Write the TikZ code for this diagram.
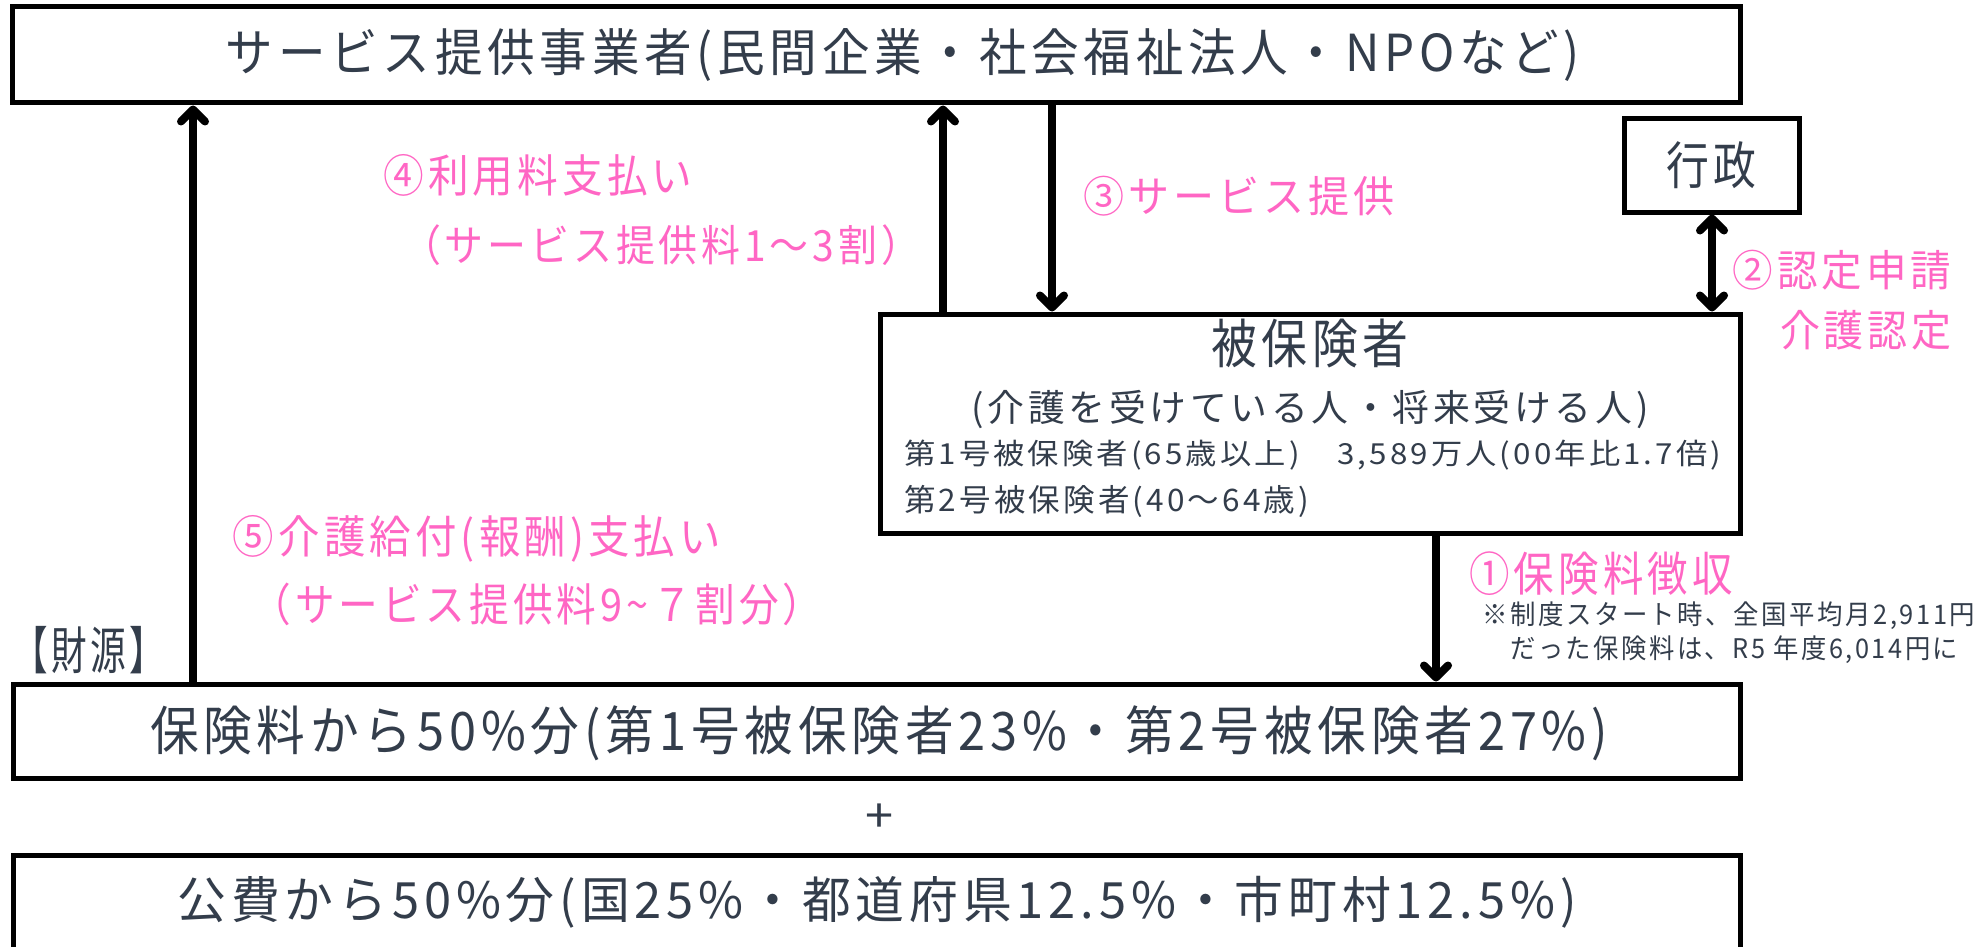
\documentclass[tikz,border=0pt]{standalone}
\usepackage{graphicx}
\usepackage{fontspec}
\usetikzlibrary{arrows.meta}
\newfontfamily\jp[LetterSpace=10]{Noto Sans CJK JP}
\definecolor{dk}{HTML}{333D4B}
\definecolor{pk}{HTML}{FF66C4}
\newcommand\tx[3]{\resizebox{#1pt}{\height}{\fontsize{#2}{#2}\selectfont\jp #3}}
\begin{document}
\begin{tikzpicture}[x=1pt,y=-1pt,
  box/.style={draw=black, line width=5pt, fill=white, inner sep=0pt, text=dk},
  arr/.style={line width=8pt, -{Straight Barb[length=12pt,width=24pt,round]}},
  darr/.style={line width=8pt, {Straight Barb[length=12pt,width=24pt,round]}-{Straight Barb[length=12pt,width=24pt,round]}},
  dtxt/.style={text=dk, inner sep=0pt},
  ptxt/.style={text=pk, inner sep=0pt}]
\useasboundingbox (0,0) rectangle (1977,947);
\clip (0,0) rectangle (1977,947);
\fill[white] (0,0) rectangle (1977,947);

% boxes
\node[box, minimum width=1728pt, minimum height=96pt] (prov) at (876,55) {};
\node[dtxt] (provt) at (903,55) {\tx{1354}{51}{サービス提供事業者(民間企業・社会福祉法人・NPOなど)}};
\node[box, minimum width=175pt, minimum height=93pt] (gyo) at (1711.5,165.5) {\tx{90}{51}{行政}};
\node[box, minimum width=860pt, minimum height=219pt] (bene) at (1310,423.5) {};
\node[box, minimum width=1727pt, minimum height=94pt] (fund1) at (876.5,731) {};
\node[dtxt] (fund1t) at (879,733) {\tx{1458}{53}{保険料から50\%分(第1号被保険者23\%・第2号被保険者27\%)}};
\node[box, minimum width=1727pt, minimum height=145pt] (fund2) at (876.5,927.5) {};
\node[dtxt] (fund2t) at (877,902) {\tx{1399}{50}{公費から50\%分(国25\%・都道府県12.5\%・市町村12.5\%)}};
\node[dtxt] (plus) at (879,818) {\tx{28}{46}{+}};
\node[dtxt] (zaigen) at (89,650) {\tx{153}{51}{【財源】}};

% insured box text
\node[dtxt] (b1) at (1310,343) {\tx{197}{53}{被保険者}};
\node[dtxt] (b2) at (1310,410) {\tx{677}{37}{(介護を受けている人・将来受ける人)}};
\node[dtxt, anchor=west] (b3) at (904,455) {\tx{817}{29}{第1号被保険者(65歳以上)　3,589万人(00年比1.7倍)}};
\node[dtxt, anchor=west] (b4) at (904,501) {\tx{405}{31}{第2号被保険者(40〜64歳)}};

% pink labels
\node[ptxt] (l4a) at (538,175) {\tx{309}{45}{④利用料支払い}};
\node[ptxt] (l4b) at (661,245) {\tx{518}{43}{（サービス提供料1〜3割）}};
\node[ptxt] (l3) at (1239,196) {\tx{312}{43}{③サービス提供}};
\node[ptxt] (l2a) at (1842,270) {\tx{219}{43}{②認定申請}};
\node[ptxt] (l2b) at (1866,330) {\tx{172}{43}{介護認定}};
\node[ptxt] (l5a) at (477,539) {\tx{488}{45}{⑤介護給付(報酬)支払い}};
\node[ptxt] (l5b) at (537,604) {\tx{571}{45}{（サービス提供料9\textasciitilde７割分）}};
\node[ptxt] (l1) at (1601,574) {\tx{263}{47}{①保険料徴収}};
\node[dtxt, anchor=west] (n1) at (1482,616) {\tx{493}{27}{※制度スタート時、全国平均月2,911円}};
\node[dtxt, anchor=west] (n2) at (1510,650) {\tx{448}{27}{だった保険料は、R5 年度6,014円に}};

% arrows
\coordinate (xa) at (193,0);
\coordinate (xb) at (943,0);
\coordinate (xc) at (1052,0);
\coordinate (xd) at (1712,0);
\coordinate (xe) at (1436,0);
\draw[arr] (fund1.north -| xa) -- (prov.south -| xa);
\draw[arr] (bene.north -| xb) -- (prov.south -| xb);
\draw[arr] (prov.south -| xc) -- (bene.north -| xc);
\draw[darr] (gyo.south -| xd) -- (bene.north -| xd);
\draw[arr] (bene.south -| xe) -- (fund1.north -| xe);
\end{tikzpicture}
\end{document}
